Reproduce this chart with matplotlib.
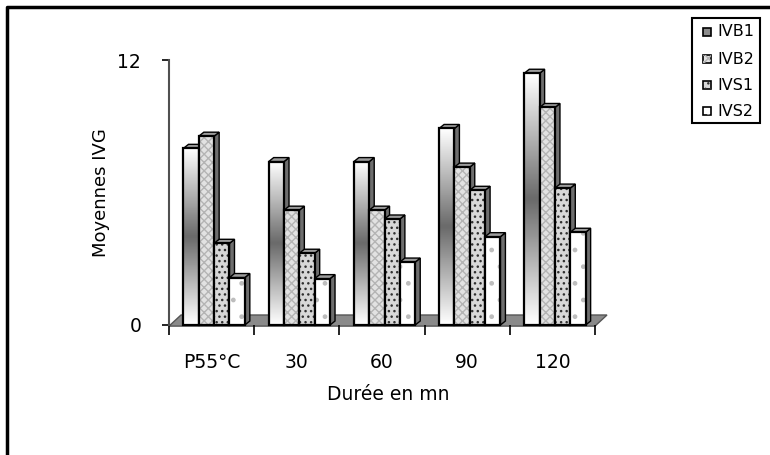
import numpy as np
import matplotlib.pyplot as plt
from matplotlib.patches import Polygon, Rectangle
from matplotlib.lines import Line2D

plt.rcParams['font.family'] = ['DejaVu Sans']

categories = ['P55°C', '30', '60', '90', '120']
series = ['IVB1', 'IVB2', 'IVS1', 'IVS2']
ivb1 = [8.0, 7.4, 7.4, 8.9, 11.4]
ivb2 = [8.55, 5.2, 5.2, 7.15, 9.85]
ivs1 = [3.7, 3.25, 4.8, 6.1, 6.2]
ivs2 = [2.15, 2.1, 2.85, 4.0, 4.2]
values = [ivb1, ivb2, ivs1, ivs2]

# front-face style for each series: base colour, hatch, hatch colour
faces = [('#c8c8c8', None, None),
         ('#e2e2e2', 'xxxx', '#b4b4b4'),
         ('#d8d8d8', '...', '#303030'),
         ('#ffffff', '.', '#bdbdbd')]

fig = plt.figure(figsize=(7.7, 4.55), dpi=100)
W, H = 770, 455
x0, x1, y0, y1 = 169, 595, 325, 60
ax = fig.add_axes([x0 / W, 1 - y0 / H, (x1 - x0) / W, (y0 - y1) / H])
ax.set_xlim(0, 5)
ax.set_ylim(0, 12)

# pixel -> data scale for the depth offsets
px_x = 5 / (x1 - x0)
px_y = 12 / (y0 - y1)
bdx, bdy = 5 * px_x, 4 * px_y
fdx, fdy = 12 * px_x, 10 * px_y

# floor
floor = Polygon([(0, -0.05), (5, -0.05), (5 + fdx, fdy), (fdx, fdy)],
                closed=True, facecolor='#8a8a8a', edgecolor='#555555',
                lw=1, clip_on=False, zorder=1)
ax.add_patch(floor)

bw = 0.18
start = 0.17
grad = np.concatenate([np.linspace(1.0, 0.42, 50), np.linspace(0.42, 1.0, 50)])
grad = np.tile(grad[:, None], (1, 2))

z = 2
for i in range(len(categories)):
    for k, vals in enumerate(values):
        left = i + start + k * bw
        h = vals[i]
        right = left + bw
        # side face
        ax.add_patch(Polygon([(right, 0), (right + bdx, bdy), (right + bdx, h + bdy), (right, h)],
                             closed=True, facecolor='#6e6e6e', edgecolor='black', lw=1,
                             clip_on=False, zorder=z))
        # top face
        ax.add_patch(Polygon([(left, h), (left + bdx, h + bdy), (right + bdx, h + bdy), (right, h)],
                             closed=True, facecolor='#9c9c9c', edgecolor='black', lw=1,
                             clip_on=False, zorder=z))
        fc, hatch, hc = faces[k]
        ax.bar(left, h, bw, align='edge', facecolor=fc, lw=0,
               clip_on=False, zorder=z + 0.1)
        if k == 0:
            clip = ax.bar(left, h, bw, align='edge', facecolor='none', lw=0,
                          clip_on=False, zorder=z + 0.1)[0]
            im = ax.imshow(grad, cmap='gray', vmin=0, vmax=1, aspect='auto',
                           extent=(left, right, 0, h), zorder=z + 0.2, clip_on=False)
            im.set_clip_path(clip)
        if hatch:
            ax.bar(left, h, bw, align='edge', facecolor='none', edgecolor=hc,
                   lw=0, hatch=hatch, clip_on=False, zorder=z + 0.2)
        ax.bar(left, h, bw, align='edge', facecolor='none', edgecolor='black',
               lw=1.6, clip_on=False, zorder=z + 0.3)
        z += 1

ax.set_xlim(0, 5)
ax.set_ylim(0, 12)

for s in ['top', 'right']:
    ax.spines[s].set_visible(False)
ax.spines['left'].set_color('#505050')
ax.spines['left'].set_linewidth(1.5)
ax.spines['bottom'].set_visible(False)

ax.set_yticks([0, 12])
ax.set_yticklabels(['0', '12'], fontsize=13.5)
ax.tick_params(axis='y', length=5, width=1.2, pad=15)

ax.set_xticks(np.arange(6), minor=True)
ax.tick_params(axis='x', which='minor', length=7, width=1.2, direction='out')
ax.set_xticks(np.arange(5) + 0.5)
ax.set_xticklabels(categories, fontsize=13.5)
ax.tick_params(axis='x', which='major', length=0, pad=20)
ax.patch.set_visible(False)

fig.text(101 / W, 1 - 193 / H, 'Moyennes IVG', rotation=90, fontsize=13,
         ha='center', va='center')
fig.text(388 / W, 1 - 394 / H, 'Durée en mn', fontsize=13.5, ha='center', va='center')

# chart border (left and top edges)
fig.add_artist(Line2D([7 / W, 7 / W, 1.0], [0, 1 - 7 / H, 1 - 7 / H],
                      color='black', lw=2.5))

# legend
fig.add_artist(Rectangle((692 / W, 1 - 123 / H), 68 / W, 105 / H,
                         facecolor='white', edgecolor='black', lw=1.5))
leg_y = [32, 59, 85, 111]
for k, name in enumerate(series):
    fc, hatch, hc = faces[k]
    y = leg_y[k]
    sq = Rectangle((703 / W, 1 - (y + 4) / H), 8 / W, 8 / H,
                   facecolor='#8c8c8c' if k == 0 else fc, edgecolor='black', lw=1.2)
    fig.add_artist(sq)
    if hatch:
        fig.add_artist(Rectangle((703 / W, 1 - (y + 4) / H), 8 / W, 8 / H,
                                 facecolor='none', edgecolor=hc, lw=0, hatch=hatch))
    fig.text(717 / W, 1 - y / H, name, fontsize=11.5, ha='left', va='center')

fig.savefig('out.png', dpi=100)
